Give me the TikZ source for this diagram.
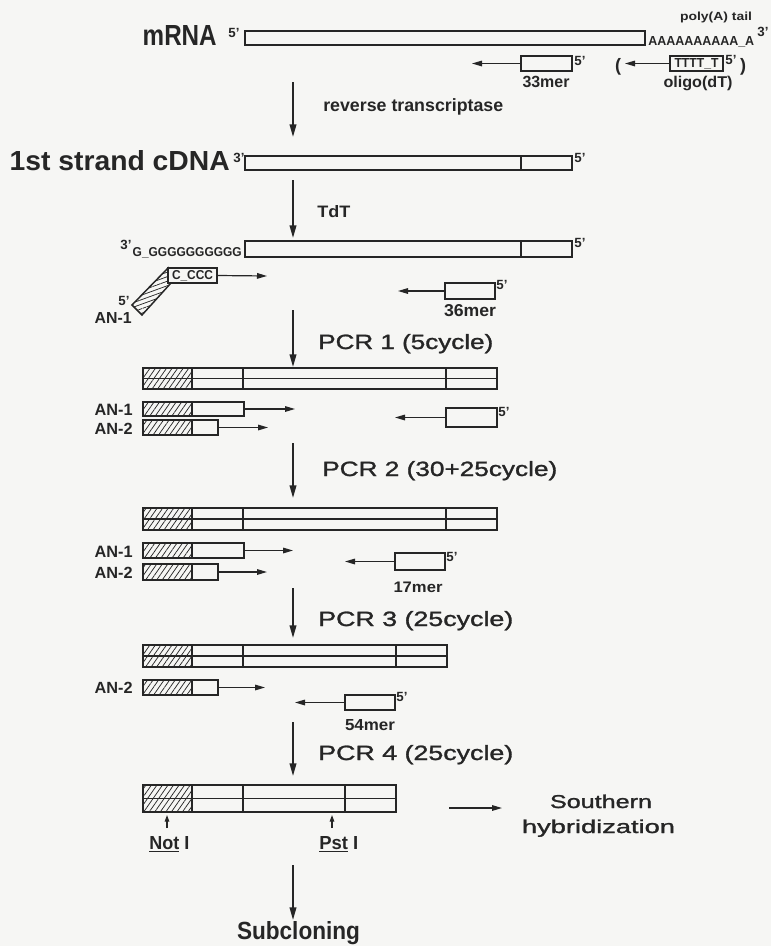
\documentclass[tikz,border=0pt]{standalone}
\usepackage{fontspec}
\setmainfont{Liberation Sans}
\newfontfamily\semifont[FakeBold=1.2]{Liberation Sans}
\usepackage{graphicx}
\usetikzlibrary{arrows.meta,patterns.meta,fit}
\newdimen\pxu \pxu=0.75pt
\newcommand\fb[3]{\resizebox{#1\pxu}{#2\pxu}{#3}}
\newcommand\fw[2]{\resizebox{#1\pxu}{!}{#2}}
\definecolor{ink}{RGB}{38,38,38}
\definecolor{paper}{RGB}{246,246,244}
\tikzset{
  strand/.style={draw=ink, line width=1.1pt, inner sep=0pt},
  hatch/.style={draw=ink, line width=1.1pt, inner sep=0pt,
    pattern={Lines[angle=55,distance=3.4pt,line width=0.55pt]}, pattern color=ink},
  tailhatch/.style={draw=ink, line width=1.1pt,
    pattern={Lines[angle=20,distance=3.2pt,line width=0.55pt]}, pattern color=ink},
  divline/.style={draw=ink, line width=1.1pt},
  midline/.style={draw=ink, line width=0.8pt},
  mainarrow/.style={draw=ink, line width=1.3pt, -{Triangle[length=9.5pt,width=5pt]}},
  primer/.style={draw=ink, line width=0.9pt, -{Triangle[length=7.5pt,width=4.2pt]}},
  sitearrow/.style={draw=ink, line width=0.9pt, -{Triangle[length=5pt,width=3.4pt]}},
  lab/.style={inner sep=0pt, text=ink},
  sm/.style={inner sep=0pt, text=ink, font=\bfseries\fontsize{10}{10}\selectfont},
  par/.style={inner sep=0pt, text=ink, font=\bfseries\fontsize{13.5}{13.5}\selectfont}
}
\begin{document}
\begin{tikzpicture}[x=0.75pt,y=-0.75pt]
\fill[paper] (0,0) rectangle (771,946);
\useasboundingbox (0,0) rectangle (771,946);

% ---------------- mRNA row
\node[lab, anchor=base east] (lmrna) at (217,45) {\fb{74}{20}{\bfseries mRNA}};
\node[sm, anchor=base] (p5a) at (234,37) {5'};
\node[strand, fit={(245,31)(645,45)}] (mrna) {};
\node[lab, anchor=base west] (polya) at (648,45) {\fb{106}{9}{\bfseries AAAAAAAAAA\_A}};
\node[sm, anchor=base] (p3a) at (763,36) {3'};
\node[lab, anchor=base] (ptail) at (716,20) {\fb{72}{8.5}{\bfseries poly(A) tail}};
\node[strand, fit={(521,56)(572,71)}] (m33) {};
\coordinate (m33e) at (472,63.5);
\draw[primer] (m33.west) -- (m33e);
\node[sm, anchor=base] (p5b) at (580,65) {5'};
\node[lab, anchor=base] (l33) at (546,87) {\fb{47}{11.3}{\bfseries 33mer}};
\node[par, anchor=base] (lpar) at (618,71) {(};
\node[strand, fit={(670,56)(723,71)}] (odt) {};
\node[lab] (tt) at (696.5,64) {\fb{44}{9}{\bfseries TTTT\_T}};
\coordinate (odte) at (625,63.5);
\draw[primer] (odt.west) -- (odte);
\node[sm, anchor=base] (p5c) at (731,64) {5'};
\node[par, anchor=base] (rpar) at (743,71) {)};
\node[lab, anchor=base] (lodt) at (698,87) {\fb{69}{11.3}{\bfseries oligo(dT)}};

% arrow 1
\coordinate (a1s) at (293,82);
\coordinate (a1e) at (293,137);
\draw[mainarrow] (a1s) -- (a1e);
\node[lab, anchor=base west] (lrt) at (323,111) {\fw{180}{\bfseries\fontsize{14}{14}\selectfont reverse transcriptase}};

% ---------------- 1st strand cDNA row
\node[lab, anchor=base east] (lcdna) at (230,170) {\fb{220}{20}{\bfseries 1st strand cDNA}};
\node[sm, anchor=base] (p3b) at (239,162) {3'};
\node[strand, fit={(245,156)(572,170)}] (cdna) {};
\draw[divline] (521,156) -- (521,170);
\node[sm, anchor=base] (p5d) at (580,162) {5'};

% arrow 2
\coordinate (a2s) at (293,180);
\coordinate (a2e) at (293,238);
\draw[mainarrow] (a2s) -- (a2e);
\node[lab, anchor=base west] (ltdt) at (317,217) {\fb{33}{12}{\bfseries TdT}};

% ---------------- TdT row
\node[sm, anchor=base] (p3c) at (126,249) {3'};
\node[lab, anchor=base east] (lgg) at (242,256) {\fb{109}{9}{\bfseries G\_GGGGGGGGGG}};
\node[strand, fit={(245,241)(572,257)}] (tdt) {};
\draw[divline] (521,241) -- (521,257);
\node[sm, anchor=base] (p5e) at (580,247) {5'};
\filldraw[tailhatch] (168,268) -- (132,305) -- (142,315) -- (171,283) -- cycle;
\node[strand, fill=paper, fit={(168,268)(217,283)}] (cc) {};
\node[lab] (lcc) at (192.5,275.5) {\fb{41}{9}{\bfseries C\_CCC}};
\coordinate (cce) at (267,276);
\draw[primer] (cc.east) -- (cce);
\node[sm, anchor=base] (p5f) at (124,305) {5'};
\node[lab, anchor=base east] (lan1t) at (132,323) {\fb{37}{11}{\bfseries AN-1}};
\node[strand, fit={(445,283)(495,299)}] (m36a) {};
\coordinate (m36ae) at (398,291);
\draw[primer] (m36a.west) -- (m36ae);
\node[sm, anchor=base] (p5g) at (502,289) {5'};
\node[lab, anchor=base] (l36) at (470,316) {\fb{52}{12}{\bfseries 36mer}};

% arrow 3
\coordinate (a3s) at (293,310);
\coordinate (a3e) at (293,367);
\draw[mainarrow] (a3s) -- (a3e);
\node[lab, anchor=base west] (lpcr1) at (318,349) {\fb{175}{15}{\semifont PCR 1 (5cycle)}};

% ---------------- PCR1 row
\node[strand, fit={(143,368)(497,389)}] (d1) {};
\draw[midline] (143,378.5) -- (497,378.5);
\node[hatch, fit={(143,368)(192,389)}] (d1h) {};
\draw[divline] (243,368) -- (243,389);
\draw[divline] (446,368) -- (446,389);
\node[strand, fit={(143,402)(244,416)}] (an1a) {};
\node[hatch, fit={(143,402)(192,416)}] (an1ah) {};
\coordinate (an1ae) at (295,409);
\draw[primer] (an1a.east) -- (an1ae);
\node[strand, fit={(143,420)(218,435)}] (an2a) {};
\node[hatch, fit={(143,420)(192,435)}] (an2ah) {};
\coordinate (an2ae) at (268,427.5);
\draw[primer] (an2a.east) -- (an2ae);
\node[lab, anchor=base east] (lan1a) at (133,415.5) {\fb{38}{11.3}{\bfseries AN-1}};
\node[lab, anchor=base east] (lan2a) at (133,434.5) {\fb{38}{11.3}{\bfseries AN-2}};
\node[strand, fit={(446,408)(497,427)}] (m36b) {};
\coordinate (m36be) at (395,417.5);
\draw[primer] (m36b.west) -- (m36be);
\node[sm, anchor=base] (p5h) at (504,416) {5'};

% arrow 4
\coordinate (a4s) at (293,443);
\coordinate (a4e) at (293,498);
\draw[mainarrow] (a4s) -- (a4e);
\node[lab, anchor=base west] (lpcr2) at (322,476) {\fb{235}{15}{\semifont PCR 2 (30+25cycle)}};

% ---------------- PCR2 row
\node[strand, fit={(143,508)(497,530)}] (d2) {};
\draw[midline] (143,519) -- (497,519);
\node[hatch, fit={(143,508)(192,530)}] (d2h) {};
\draw[divline] (243,508) -- (243,530);
\draw[divline] (446,508) -- (446,530);
\node[strand, fit={(143,543)(244,558)}] (an1b) {};
\node[hatch, fit={(143,543)(192,558)}] (an1bh) {};
\coordinate (an1be) at (293,550.5);
\draw[primer] (an1b.east) -- (an1be);
\node[strand, fit={(143,564)(218,580)}] (an2b) {};
\node[hatch, fit={(143,564)(192,580)}] (an2bh) {};
\coordinate (an2be) at (267,572);
\draw[primer] (an2b.east) -- (an2be);
\node[lab, anchor=base east] (lan1b) at (133,557) {\fb{38}{11.3}{\bfseries AN-1}};
\node[lab, anchor=base east] (lan2b) at (133,578) {\fb{38}{11.3}{\bfseries AN-2}};
\node[strand, fit={(395,553)(445,570)}] (m17) {};
\coordinate (m17e) at (345,561.5);
\draw[primer] (m17.west) -- (m17e);
\node[sm, anchor=base] (p5i) at (452,561) {5'};
\node[lab, anchor=base] (l17) at (418,592) {\fb{49}{10.5}{\bfseries 17mer}};

% arrow 5
\coordinate (a5s) at (293,588);
\coordinate (a5e) at (293,638);
\draw[mainarrow] (a5s) -- (a5e);
\node[lab, anchor=base west] (lpcr3) at (318,626) {\fb{195}{15}{\semifont PCR 3 (25cycle)}};

% ---------------- PCR3 row
\node[strand, fit={(143,645)(447,667)}] (d3) {};
\draw[midline] (143,656) -- (447,656);
\node[hatch, fit={(143,645)(192,667)}] (d3h) {};
\draw[divline] (243,645) -- (243,667);
\draw[divline] (396,645) -- (396,667);
\node[strand, fit={(143,680)(218,695)}] (an2c) {};
\node[hatch, fit={(143,680)(192,695)}] (an2ch) {};
\coordinate (an2ce) at (265,687.5);
\draw[primer] (an2c.east) -- (an2ce);
\node[lab, anchor=base east] (lan2c) at (133,693.5) {\fb{38}{11.3}{\bfseries AN-2}};
\node[strand, fit={(345,695)(395,710)}] (m54) {};
\coordinate (m54e) at (295,702.5);
\draw[primer] (m54.west) -- (m54e);
\node[sm, anchor=base] (p5j) at (402,701) {5'};
\node[lab, anchor=base] (l54) at (370,730) {\fb{50}{11}{\bfseries 54mer}};

% arrow 6
\coordinate (a6s) at (293,722);
\coordinate (a6e) at (293,776);
\draw[mainarrow] (a6s) -- (a6e);
\node[lab, anchor=base west] (lpcr4) at (318,760) {\fb{195}{15}{\semifont PCR 4 (25cycle)}};

% ---------------- PCR4 row
\node[strand, fit={(143,785)(396,812)}] (d4) {};
\draw[midline] (143,798.5) -- (396,798.5);
\node[hatch, fit={(143,785)(192,812)}] (d4h) {};
\draw[divline] (243,785) -- (243,812);
\draw[divline] (345,785) -- (345,812);
\coordinate (nots) at (167,828);
\coordinate (note) at (167,815);
\draw[sitearrow] (nots) -- (note);
\coordinate (psts) at (332,828);
\coordinate (pste) at (332,815);
\draw[sitearrow] (psts) -- (pste);
\node[lab, anchor=base west] (lnot) at (149,849) {\fb{40}{13}{\bfseries\underline{Not} I}};
\node[lab, anchor=base west] (lpst) at (319,849) {\fb{39}{13}{\bfseries\underline{Pst} I}};
\coordinate (srs) at (449,808);
\coordinate (sre) at (502,808);
\draw[primer] (srs) -- (sre);
\node[lab, anchor=base] (lsou) at (601,808) {\fb{102}{13.5}{\semifont Southern}};
\node[lab, anchor=base] (lhyb) at (598.5,833) {\fb{153}{13.5}{\semifont hybridization}};

% arrow 7
\coordinate (a7s) at (293,865);
\coordinate (a7e) at (293,920);
\draw[mainarrow] (a7s) -- (a7e);
\node[lab, anchor=base] (lsub) at (298.5,939) {\fb{123}{18}{\bfseries Subcloning}};
\end{tikzpicture}
\end{document}
